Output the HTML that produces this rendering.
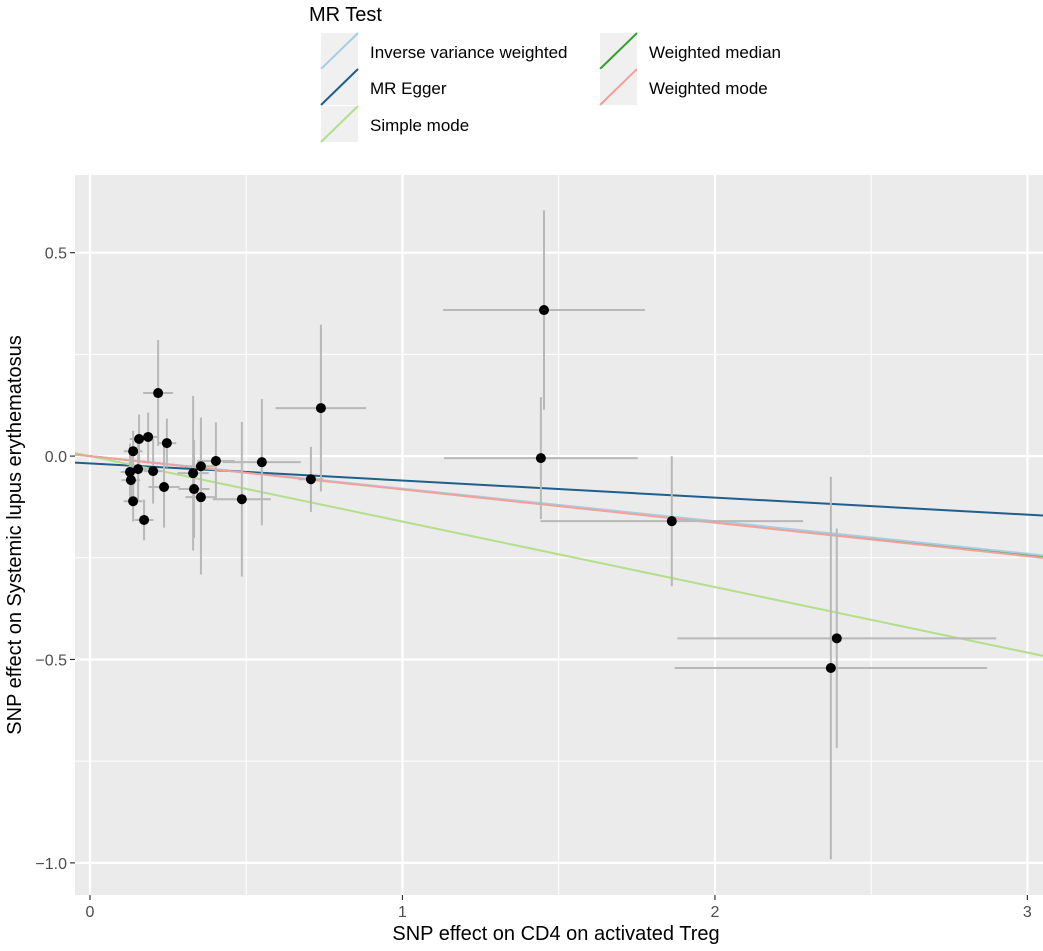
<!DOCTYPE html>
<html><head><meta charset="utf-8"><style>
html,body{margin:0;padding:0;background:#fff}
svg{display:block;font-family:"Liberation Sans",Arial,sans-serif}
</style></head><body>
<svg id="chart" width="1043" height="951" viewBox="0 0 1043 951" xmlns="http://www.w3.org/2000/svg">
<g id="legend">
<text x="309" y="21" font-size="20" fill="#000">MR Test</text>
</g>
<rect x="75" y="175" width="968" height="720" fill="#ebebeb"/>
<g id="grid"></g>
<g id="lines"></g>
<g id="errs"></g>
<g id="pts"></g>
<g id="axes"></g>
<text x="556" y="940" font-size="20" text-anchor="middle" fill="#000">SNP effect on CD4 on activated Treg</text>
<text transform="translate(21,535) rotate(-90)" font-size="20" text-anchor="middle" fill="#000">SNP effect on Systemic lupus erythematosus</text>
</svg>
<script>
const bx = [0.218,0.157,0.186,0.138,0.246,0.128,0.131,0.154,0.202,0.138,0.173,0.237,0.330,0.355,0.333,0.355,0.403,0.550,0.486,0.739,0.707,1.453,1.443,1.862,2.371,2.390];
const by = [0.155,0.042,0.047,0.012,0.032,-0.039,-0.059,-0.032,-0.037,-0.111,-0.157,-0.076,-0.042,-0.025,-0.081,-0.101,-0.012,-0.015,-0.106,0.118,-0.057,0.359,-0.005,-0.160,-0.521,-0.448];
const sex = [0.048,0.03,0.03,0.03,0.03,0.03,0.03,0.03,0.03,0.03,0.03,0.05,0.05,0.05,0.05,0.05,0.06,0.125,0.093,0.145,0.04,0.323,0.31,0.42,0.5,0.51];
const sey = [0.13,0.06,0.06,0.05,0.06,0.07,0.06,0.08,0.08,0.05,0.05,0.10,0.19,0.12,0.12,0.19,0.095,0.155,0.19,0.205,0.08,0.245,0.15,0.16,0.47,0.27];
const methods = ["Inverse variance weighted","MR Egger","Simple mode","Weighted median","Weighted mode"];
const colors = ["#a6cee3","#1f5f8b","#b2df8a","#33a02c","#f4a09a"];
const intercepts = [0,-0.018,0,0,0];
const slopes = [-0.080,-0.042,-0.161,-0.081,-0.082];
const xTicks = [0,1,2,3];
const yTicks = [-1.0,-0.5,0,0.5];
const yTickLabels = ["\u22121.0","\u22120.5","0.0","0.5"];

const X0=75,X1=1043,Y0=175,Y1=895;
const xmin=-0.048,xmax=3.05,ymin=-1.079,ymax=0.691;
const sx=v=>X0+(v-xmin)/(xmax-xmin)*(X1-X0);
const sy=v=>Y1-(v-ymin)/(ymax-ymin)*(Y1-Y0);
const NS="http://www.w3.org/2000/svg";
function mk(tag,attrs,parent){const e=document.createElementNS(NS,tag);for(const k in attrs)e.setAttribute(k,attrs[k]);parent.appendChild(e);return e;}
const grid=document.getElementById('grid');
for(let i=0;i<xTicks.length;i++){
  const m=xTicks[i]+0.5;
  if(sx(m)<X1){const l=mk('line',{x1:sx(m),x2:sx(m),y1:Y0,y2:Y1,stroke:'#fff','stroke-width':1},grid);
  
  }
}
for(let i=0;i<yTicks.length;i++){
  const m=yTicks[i]+0.25;
  if(sy(m)>Y0){const l=mk('line',{x1:X0,x2:X1,y1:sy(m),y2:sy(m),stroke:'#fff','stroke-width':1},grid);
  
  }
}
const axes=document.getElementById('axes');
xTicks.forEach(t=>{
  const l=mk('line',{x1:sx(t),x2:sx(t),y1:Y0,y2:Y1,stroke:'#fff','stroke-width':2.2},grid);
  
  
  const k=mk('line',{x1:sx(t),x2:sx(t),y1:Y1,y2:Y1+5,stroke:'#333','stroke-width':1.2},axes);
  
  
  const tx=mk('text',{x:sx(t),y:Y1+22,'font-size':16,'text-anchor':'middle',fill:'#4d4d4d'},axes);
  tx.textContent=String(t);
  
  
});
yTicks.forEach((t,i)=>{
  const l=mk('line',{x1:X0,x2:X1,y1:sy(t),y2:sy(t),stroke:'#fff','stroke-width':2.2},grid);
  
  
  const k=mk('line',{x1:X0-5,x2:X0,y1:sy(t),y2:sy(t),stroke:'#333','stroke-width':1.2},axes);
  
  
  const tx=mk('text',{x:X0-8,y:sy(t)+6,'font-size':16,'text-anchor':'end',fill:'#4d4d4d'},axes);
  tx.textContent=yTickLabels[i];
  
  
});
const lines=document.getElementById('lines');
const order=[3,0,1,2,4];
order.forEach(i=>{
  const l=mk('line',{x1:X0,y1:sy(intercepts[i]+slopes[i]*xmin),x2:X1,y2:sy(intercepts[i]+slopes[i]*xmax),stroke:colors[i],'stroke-width':2},lines);
  
  
});
const errs=document.getElementById('errs'),pts=document.getElementById('pts');
bx.forEach((v,i)=>{
  const h=mk('line',{x1:sx(v-sex[i]),x2:sx(v+sex[i]),y1:sy(by[i]),y2:sy(by[i]),stroke:'#b8b8b8','stroke-width':2},errs);
  
  
  const vv=mk('line',{x1:sx(v),x2:sx(v),y1:sy(by[i]-sey[i]),y2:sy(by[i]+sey[i]),stroke:'#b8b8b8','stroke-width':2},errs);
  
  
});
bx.forEach((v,i)=>{
  const c=mk('circle',{cx:sx(v),cy:sy(by[i]),r:5,fill:'#000'},pts);
  
  
});
const leg=document.getElementById('legend');
const legPos=[[321,33],[321,69],[321,106],[600,33],[600,69]];
methods.forEach((m,i)=>{
  const [x,y]=legPos[i];
  const g=mk('g',{},leg);
  
  
  mk('rect',{x:x,y:y,width:37,height:36,fill:'#f0f0f0'},g);
  mk('line',{x1:x,y1:y+36,x2:x+37,y2:y,stroke:colors[i],'stroke-width':2},g);
  const t=mk('text',{x:x+49,y:y+25,'font-size':17,fill:'#000'},g);
  t.textContent=m;
});
</script>
</body></html>
